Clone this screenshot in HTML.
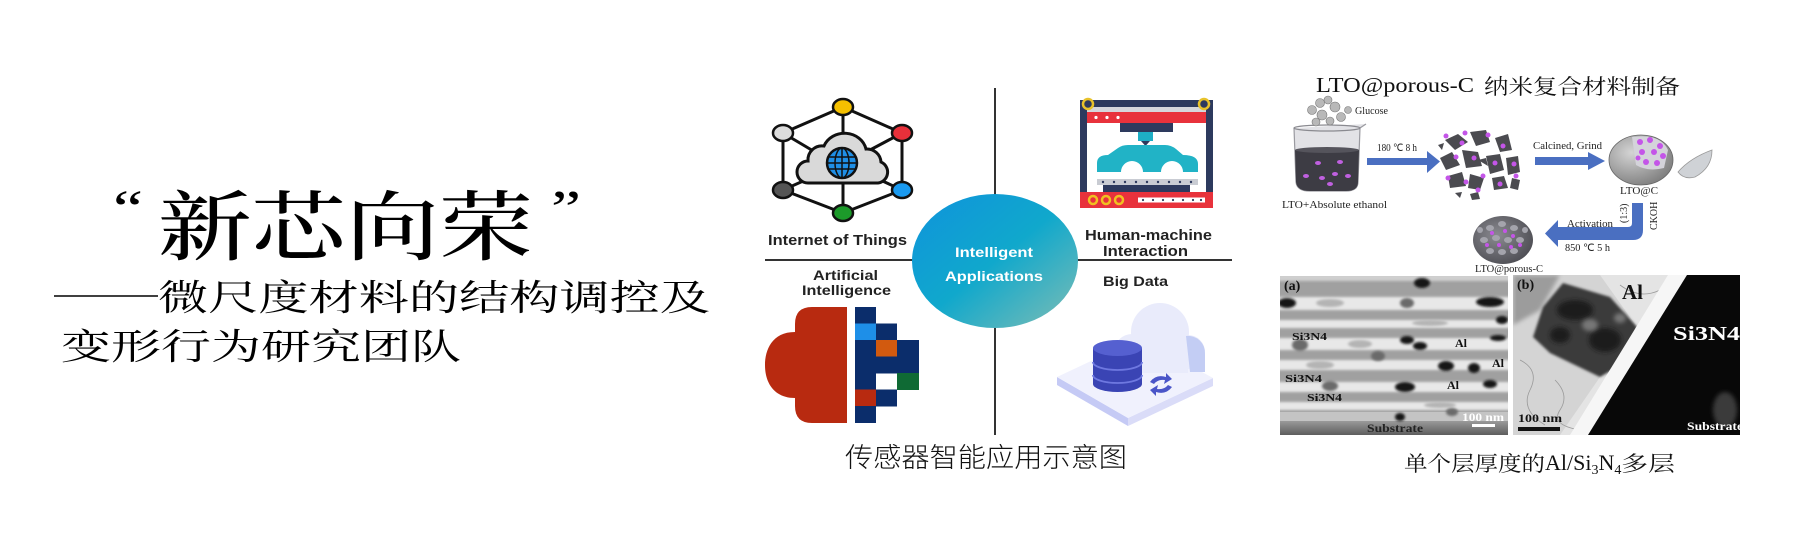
<!DOCTYPE html>
<html><head><meta charset="utf-8">
<style>
html,body{margin:0;padding:0;background:#fff;}
svg{display:block;}
</style></head><body>
<svg width="1794" height="537" viewBox="0 0 1794 537" xmlns="http://www.w3.org/2000/svg">
<defs>
  <linearGradient id="gc" x1="0" y1="0" x2="1" y2="1">
    <stop offset="0" stop-color="#0f93dc"/>
    <stop offset="0.5" stop-color="#10a8cc"/>
    <stop offset="1" stop-color="#7fbdb4"/>
  </linearGradient>
  <radialGradient id="gs" cx="0.35" cy="0.35" r="0.75">
    <stop offset="0" stop-color="#d4d4d4"/>
    <stop offset="1" stop-color="#7a7a7a"/>
  </radialGradient>
  <radialGradient id="gp" cx="0.4" cy="0.4" r="0.7">
    <stop offset="0" stop-color="#8a8a90"/>
    <stop offset="1" stop-color="#4a4a50"/>
  </radialGradient>
  <linearGradient id="gsub" x1="0" y1="0" x2="0" y2="1">
    <stop offset="0" stop-color="#9a9a9a"/>
    <stop offset="1" stop-color="#5e5e5e"/>
  </linearGradient>
  <filter id="b1" x="-20%" y="-20%" width="140%" height="140%"><feGaussianBlur stdDeviation="1.2"/></filter>
  <filter id="b2" x="-20%" y="-20%" width="140%" height="140%"><feGaussianBlur stdDeviation="2"/></filter>
  <clipPath id="ca"><rect x="1280" y="276" width="228" height="159"/></clipPath>
  <clipPath id="cb"><rect x="1513" y="275" width="227" height="160"/></clipPath>
</defs>

<rect width="1794" height="537" fill="#fff"/>

<!-- LEFT TEXT -->
<text transform="translate(113,226) scale(1.3,1)" font-family="Liberation Serif, serif" font-size="52">“</text>
<text x="158" y="254" font-family="Noto Serif CJK SC, serif" font-weight="500" font-size="76" textLength="375" lengthAdjust="spacingAndGlyphs">新芯向荣</text>
<text transform="translate(551,226) scale(1.3,1)" font-family="Liberation Serif, serif" font-size="52">”</text>

<line x1="54" y1="296" x2="158" y2="296" stroke="#000" stroke-width="1.6"/>
<text x="158" y="310" font-family="Noto Serif CJK SC, serif" font-size="36" textLength="552" lengthAdjust="spacingAndGlyphs">微尺度材料的结构调控及</text>
<text x="61" y="359" font-family="Noto Serif CJK SC, serif" font-size="36" textLength="400" lengthAdjust="spacingAndGlyphs">变形行为研究团队</text>

<!-- MIDDLE PANEL -->
<line x1="765" y1="260" x2="1232" y2="260" stroke="#333" stroke-width="2"/>
<line x1="995" y1="88" x2="995" y2="435" stroke="#333" stroke-width="2"/>

<!-- IoT icon -->
<g stroke="#111" stroke-width="3" fill="none" stroke-linejoin="round">
  <polygon points="843,107 902,133 902,190 843,213 783,190 783,133"/>
  <line x1="843" y1="107" x2="843" y2="142"/>
  <line x1="783" y1="133" x2="815" y2="152"/>
  <line x1="902" y1="133" x2="870" y2="150"/>
  <line x1="783" y1="190" x2="810" y2="178"/>
  <line x1="902" y1="190" x2="876" y2="178"/>
  <line x1="843" y1="213" x2="843" y2="183"/>
</g>
<path d="M808,183 H878 A11,11 0 0 0 881,162 A14,14 0 0 0 866,149 A22,20 0 0 0 824,146 A14,14 0 0 0 808,161 A11,11 0 0 0 808,183 Z" fill="#d9d9d9" stroke="#111" stroke-width="3"/>
<circle cx="842" cy="163" r="15" fill="#1f8fe6" stroke="#111" stroke-width="2.5"/>
<g stroke="#111" stroke-width="1.5" fill="none">
  <ellipse cx="842" cy="163" rx="7" ry="15"/>
  <line x1="842" y1="148" x2="842" y2="178"/>
  <line x1="828" y1="157" x2="856" y2="157"/>
  <line x1="827" y1="163" x2="857" y2="163"/>
  <line x1="828" y1="169" x2="856" y2="169"/>
</g>
<g stroke="#111" stroke-width="2.5">
  <ellipse cx="843" cy="107" rx="10" ry="8" fill="#f5c000"/>
  <ellipse cx="783" cy="133" rx="10" ry="8" fill="#dcdcdc"/>
  <ellipse cx="902" cy="133" rx="10" ry="8" fill="#e8303a"/>
  <ellipse cx="783" cy="190" rx="10" ry="8" fill="#555"/>
  <ellipse cx="902" cy="190" rx="10" ry="8" fill="#1a9af0"/>
  <ellipse cx="843" cy="213" rx="10" ry="8" fill="#1c9a2a"/>
</g>
<text x="768" y="245" font-family="Liberation Sans, sans-serif" font-weight="bold" font-size="15" fill="#222" textLength="139" lengthAdjust="spacingAndGlyphs">Internet of Things</text>

<!-- HMI icon -->
<rect x="1080" y="100" width="7" height="108" fill="#2d3a5e"/>
<rect x="1206" y="100" width="7" height="108" fill="#2d3a5e"/>
<rect x="1080" y="100" width="133" height="7" fill="#2d3a5e"/>
<rect x="1087" y="107" width="119" height="5" fill="#d5d7dc"/>
<rect x="1087" y="112" width="119" height="11" fill="#e8323c"/>
<circle cx="1096" cy="117.5" r="1.6" fill="#fff"/><circle cx="1107" cy="117.5" r="1.6" fill="#fff"/><circle cx="1118" cy="117.5" r="1.6" fill="#fff"/>
<circle cx="1088" cy="104" r="5" fill="#2d3a5e" stroke="#e8c22a" stroke-width="2.5"/>
<circle cx="1204" cy="104" r="5" fill="#2d3a5e" stroke="#e8c22a" stroke-width="2.5"/>
<rect x="1120" y="123" width="53" height="9" fill="#2d3a5e"/>
<rect x="1138" y="132" width="15" height="9" fill="#1eaec5"/>
<polygon points="1141,141 1150,141 1145.5,146" fill="#2d3a5e"/>
<path d="M1097,172 V163 Q1097,155 1108,155 L1118,148 Q1122,145 1128,145 H1165 Q1171,145 1176,149 L1183,155 Q1198,155 1198,164 V172 H1183 A11,11 0 0 0 1161,172 H1143 A11,11 0 0 0 1121,172 Z" fill="#21b3c6"/>
<rect x="1097" y="179" width="101" height="6" fill="#c9ccd3"/>
<g fill="#2d3a5e">
  <circle cx="1103" cy="182" r="1.2"/><circle cx="1114" cy="182" r="1.2"/><circle cx="1125" cy="182" r="1.2"/><circle cx="1136" cy="182" r="1.2"/><circle cx="1147" cy="182" r="1.2"/><circle cx="1158" cy="182" r="1.2"/><circle cx="1169" cy="182" r="1.2"/><circle cx="1180" cy="182" r="1.2"/><circle cx="1191" cy="182" r="1.2"/>
</g>
<rect x="1103" y="185" width="87" height="7" fill="#2d3a5e"/>
<rect x="1080" y="192" width="133" height="16" fill="#e8323c"/>
<circle cx="1093" cy="200" r="4" fill="#e8323c" stroke="#f0c020" stroke-width="2.5"/>
<circle cx="1106" cy="200" r="4" fill="#e8323c" stroke="#f0c020" stroke-width="2.5"/>
<circle cx="1119" cy="200" r="4" fill="#e8323c" stroke="#f0c020" stroke-width="2.5"/>
<rect x="1138" y="197.5" width="67" height="5" fill="#fff"/>
<g fill="#2d3a5e">
  <circle cx="1143" cy="200" r="1.1"/><circle cx="1153" cy="200" r="1.1"/><circle cx="1163" cy="200" r="1.1"/><circle cx="1173" cy="200" r="1.1"/><circle cx="1183" cy="200" r="1.1"/><circle cx="1193" cy="200" r="1.1"/><circle cx="1201" cy="200" r="1.1"/>
</g>
<text x="1085" y="240" font-family="Liberation Sans, sans-serif" font-weight="bold" font-size="15" fill="#222" textLength="127" lengthAdjust="spacingAndGlyphs">Human-machine</text>
<text x="1103" y="256" font-family="Liberation Sans, sans-serif" font-weight="bold" font-size="15" fill="#222" textLength="85" lengthAdjust="spacingAndGlyphs">Interaction</text>

<!-- Center ellipse -->
<ellipse cx="995" cy="261" rx="83" ry="67" fill="url(#gc)"/>
<text x="994" y="257" text-anchor="middle" font-family="Liberation Sans, sans-serif" font-weight="bold" font-size="14" fill="#fff" textLength="78" lengthAdjust="spacingAndGlyphs">Intelligent</text>
<text x="994" y="281" text-anchor="middle" font-family="Liberation Sans, sans-serif" font-weight="bold" font-size="14" fill="#fff" textLength="98" lengthAdjust="spacingAndGlyphs">Applications</text>

<!-- AI -->
<text x="813" y="280" font-family="Liberation Sans, sans-serif" font-weight="bold" font-size="14" fill="#222" textLength="65" lengthAdjust="spacingAndGlyphs">Artificial</text>
<text x="802" y="295" font-family="Liberation Sans, sans-serif" font-weight="bold" font-size="14" fill="#222" textLength="89" lengthAdjust="spacingAndGlyphs">Intelligence</text>
<path d="M847,307 L812,307 Q795,307 795,324 L795,332 C772,332 765,350 765,365 C765,384 775,398 795,398 L795,406 Q795,423 812,423 L847,423 Z" fill="#b82a10"/>
<g>
  <rect x="855" y="307" width="21" height="17" fill="#0b2d6b"/>
  <rect x="855" y="323.5" width="21" height="17" fill="#1e8fe8"/>
  <rect x="876" y="323.5" width="21" height="17" fill="#0b2d6b"/>
  <rect x="855" y="340" width="21" height="17" fill="#0b2d6b"/>
  <rect x="876" y="340" width="21" height="17" fill="#d25a0f"/>
  <rect x="897" y="340" width="22" height="17" fill="#0b2d6b"/>
  <rect x="855" y="356.5" width="64" height="17" fill="#0b2d6b"/>
  <rect x="855" y="373" width="21" height="17" fill="#0b2d6b"/>
  <rect x="897" y="373" width="22" height="17" fill="#0f6a34"/>
  <rect x="855" y="389.5" width="21" height="17" fill="#b82a10"/>
  <rect x="876" y="389.5" width="21" height="17" fill="#0b2d6b"/>
  <rect x="855" y="406" width="21" height="17" fill="#0b2d6b"/>
</g>

<!-- Big Data -->
<text x="1103" y="286" font-family="Liberation Sans, sans-serif" font-weight="bold" font-size="14" fill="#222" textLength="65" lengthAdjust="spacingAndGlyphs">Big Data</text>
<polygon points="1057,377 1128,418 1128,426 1057,385" fill="#c5caf5"/>
<polygon points="1128,418 1213,378 1213,386 1128,426" fill="#dadcf8"/>
<polygon points="1057,377 1140,338 1213,378 1128,418" fill="#f0f1fd"/>
<g fill="#e9ebfb">
  <circle cx="1160" cy="332" r="29"/>
  <circle cx="1132" cy="352" r="18"/>
  <circle cx="1188" cy="352" r="17"/>
  <rect x="1132" y="345" width="56" height="28"/>
</g>
<path d="M1186,336 A17,17 0 0 1 1205,354 L1205,372 L1190,372 Z" fill="#c3cdf4"/>
<g>
  <path d="M1093,348 V384 A24.5,8 0 0 0 1142,384 V348 Z" fill="#3a44b4"/>
  <ellipse cx="1117.5" cy="348" rx="24.5" ry="8" fill="#5560d0"/>
  <path d="M1093,362 A24.5,8 0 0 0 1142,362" fill="none" stroke="#6e78e0" stroke-width="1.8"/>
  <path d="M1093,375 A24.5,8 0 0 0 1142,375" fill="none" stroke="#6e78e0" stroke-width="1.8"/>
</g>
<path d="M1150,382 Q1156,374 1166,377 L1166,373 L1172,379 L1164,384 L1165,380 Q1158,379 1154,384 Z" fill="#4a55c8"/>
<path d="M1172,387 Q1166,395 1156,392 L1156,396 L1150,390 L1158,385 L1157,389 Q1164,390 1168,385 Z" fill="#4a55c8"/>

<text x="845" y="467" font-family="Liberation Sans, Noto Sans CJK SC, sans-serif" font-weight="300" font-size="27" fill="#111" textLength="282" lengthAdjust="spacingAndGlyphs">传感器智能应用示意图</text>

<!-- RIGHT PANEL -->
<text x="1316" y="92" font-family="Liberation Serif, serif" font-size="21" fill="#111" textLength="158" lengthAdjust="spacingAndGlyphs">LTO@porous-C</text>
<text x="1484" y="94" font-family="Noto Serif CJK SC, serif" font-size="21" fill="#111" textLength="196" lengthAdjust="spacingAndGlyphs">纳米复合材料制备</text>

<!-- beaker -->
<path d="M1294,128 L1296,182 Q1297,191 1310,191 L1346,191 Q1358,191 1358,182 L1360,128 L1366,124" fill="#e2e2e6" stroke="#9a9aa0" stroke-width="1.2"/>
<path d="M1295,150 L1296,182 Q1297,191 1310,191 L1346,191 Q1358,191 1358,182 L1359,150 Z" fill="#3d3c44"/>
<ellipse cx="1327" cy="150" rx="32" ry="3" fill="#55545c"/>
<ellipse cx="1327" cy="128" rx="33" ry="3" fill="none" stroke="#8a8a90" stroke-width="1.2"/>
<g fill="#c060e0">
  <ellipse cx="1318" cy="163" rx="3" ry="2"/><ellipse cx="1340" cy="162" rx="3" ry="2"/><ellipse cx="1306" cy="176" rx="3" ry="2"/><ellipse cx="1322" cy="178" rx="3" ry="2"/><ellipse cx="1335" cy="174" rx="3" ry="2"/><ellipse cx="1348" cy="176" rx="3" ry="2"/><ellipse cx="1330" cy="184" rx="3" ry="2"/>
</g>
<g fill="#b8b8b8" stroke="#777" stroke-width="0.6">
  <circle cx="1312" cy="110" r="4.5"/><circle cx="1320" cy="103" r="4.5"/><circle cx="1328" cy="100" r="4"/><circle cx="1335" cy="107" r="5"/><circle cx="1322" cy="115" r="5"/><circle cx="1341" cy="117" r="4.5"/><circle cx="1330" cy="121" r="4"/><circle cx="1316" cy="122" r="4"/><circle cx="1348" cy="110" r="3.5"/>
</g>
<text x="1355" y="114" font-family="Liberation Serif, serif" font-size="10" fill="#222" textLength="33" lengthAdjust="spacingAndGlyphs">Glucose</text>
<text x="1282" y="208" font-family="Liberation Serif, serif" font-size="11" fill="#222" textLength="105" lengthAdjust="spacingAndGlyphs">LTO+Absolute ethanol</text>

<!-- arrow 1 -->
<rect x="1367" y="158" width="61" height="7" fill="#4a6fc1"/>
<polygon points="1427,151 1440,161.5 1427,173" fill="#4a6fc1"/>
<text x="1377" y="151" font-family="Liberation Serif, serif" font-size="10" fill="#222" textLength="40" lengthAdjust="spacingAndGlyphs">180 ℃ 8 h</text>

<!-- particles -->
<g fill="#4b4b50">
  <polygon points="1445,140 1458,134 1468,142 1455,150"/>
  <polygon points="1470,132 1486,130 1490,142 1476,146"/>
  <polygon points="1495,138 1508,134 1512,150 1500,152"/>
  <polygon points="1440,158 1452,152 1460,165 1446,170"/>
  <polygon points="1462,150 1478,152 1482,166 1466,168"/>
  <polygon points="1486,156 1500,154 1504,170 1490,174"/>
  <polygon points="1506,158 1518,156 1520,172 1508,175"/>
  <polygon points="1448,176 1462,172 1466,186 1450,188"/>
  <polygon points="1470,174 1484,178 1480,190 1468,188"/>
  <polygon points="1492,178 1504,176 1508,188 1494,190"/>
  <polygon points="1512,178 1520,180 1518,190 1510,188"/>
  <polygon points="1455,193 1462,192 1460,198"/>
  <polygon points="1470,194 1478,192 1480,199 1472,200"/>
  <polygon points="1438,145 1444,143 1442,150"/>
  <polygon points="1478,160 1486,158 1488,166"/>
</g>
<g fill="#c455e8">
  <circle cx="1446" cy="136" r="2.5"/><circle cx="1465" cy="133" r="2.5"/><circle cx="1488" cy="135" r="2.5"/><circle cx="1503" cy="146" r="2.5"/><circle cx="1456" cy="157" r="2.5"/><circle cx="1474" cy="158" r="2.5"/><circle cx="1495" cy="163" r="2.5"/><circle cx="1514" cy="164" r="2.5"/><circle cx="1448" cy="178" r="2.5"/><circle cx="1466" cy="182" r="2.5"/><circle cx="1483" cy="176" r="2.5"/><circle cx="1500" cy="184" r="2.5"/><circle cx="1516" cy="176" r="2.5"/><circle cx="1462" cy="143" r="2.5"/><circle cx="1478" cy="190" r="2.5"/>
</g>

<!-- arrow 2 -->
<rect x="1535" y="157" width="54" height="8" fill="#4a6fc1"/>
<polygon points="1588,152 1605,161 1588,170" fill="#4a6fc1"/>
<text x="1533" y="149" font-family="Liberation Serif, serif" font-size="10" fill="#222" textLength="69" lengthAdjust="spacingAndGlyphs">Calcined, Grind</text>

<!-- LTO@C sphere -->
<ellipse cx="1641" cy="160" rx="32" ry="25" fill="url(#gs)" stroke="#666" stroke-width="0.8"/>
<path d="M1632,137 Q1660,133 1668,150 L1664,168 Q1648,172 1636,165 Z" fill="#d4d3da"/>
<g fill="#c455e8">
  <circle cx="1640" cy="142" r="3"/><circle cx="1650" cy="140" r="3"/><circle cx="1660" cy="146" r="3"/><circle cx="1642" cy="152" r="3"/><circle cx="1654" cy="152" r="3"/><circle cx="1663" cy="156" r="3"/><circle cx="1646" cy="162" r="3"/><circle cx="1657" cy="163" r="3"/><circle cx="1638" cy="158" r="2.5"/>
</g>
<path d="M1678,172 Q1690,158 1712,150 Q1712,168 1695,177 Q1684,180 1678,172 Z" fill="#cfd2d6" stroke="#999" stroke-width="0.8"/>
<text x="1620" y="194" font-family="Liberation Serif, serif" font-size="10" fill="#222" textLength="38" lengthAdjust="spacingAndGlyphs">LTO@C</text>

<!-- curved arrow -->
<path d="M1632,203 H1643 V230 Q1643,240 1633,240 H1558 V247 L1545,233.5 L1558,220 V227 H1628 Q1632,227 1632,223 Z" fill="#4a6fc1"/>
<text x="1567" y="227" font-family="Liberation Serif, serif" font-size="10" fill="#222" textLength="46" lengthAdjust="spacingAndGlyphs">Activation</text>
<text x="1565" y="251" font-family="Liberation Serif, serif" font-size="10" fill="#222" textLength="45" lengthAdjust="spacingAndGlyphs">850 ℃ 5 h</text>
<text transform="translate(1627,223) rotate(-90)" font-family="Liberation Serif, serif" font-size="10" fill="#222">(1:3)</text>
<text transform="translate(1657,230) rotate(-90)" font-family="Liberation Serif, serif" font-size="10" fill="#222">CKOH</text>

<!-- porous sphere -->
<ellipse cx="1503" cy="240" rx="30" ry="24" fill="url(#gp)"/>
<g fill="#a4a4ac">
  <ellipse cx="1490" cy="228" rx="4" ry="3"/><ellipse cx="1502" cy="224" rx="4" ry="3"/><ellipse cx="1514" cy="228" rx="4" ry="3"/><ellipse cx="1484" cy="240" rx="4" ry="3"/><ellipse cx="1496" cy="238" rx="4" ry="3"/><ellipse cx="1508" cy="240" rx="4" ry="3"/><ellipse cx="1520" cy="240" rx="4" ry="3"/><ellipse cx="1490" cy="251" rx="4" ry="3"/><ellipse cx="1502" cy="252" rx="4" ry="3"/><ellipse cx="1514" cy="251" rx="4" ry="3"/><ellipse cx="1525" cy="230" rx="3" ry="3"/><ellipse cx="1480" cy="230" rx="3" ry="3"/>
</g>
<g fill="#c455e8">
  <circle cx="1492" cy="233" r="2"/><circle cx="1505" cy="231" r="2"/><circle cx="1513" cy="236" r="2"/><circle cx="1499" cy="245" r="2"/><circle cx="1511" cy="247" r="2"/><circle cx="1487" cy="245" r="2"/><circle cx="1520" cy="245" r="2"/>
</g>
<text x="1475" y="272" font-family="Liberation Serif, serif" font-size="10" fill="#222" textLength="68" lengthAdjust="spacingAndGlyphs">LTO@porous-C</text>

<!-- TEM (a) -->
<g clip-path="url(#ca)">
  <rect x="1280" y="276" width="228" height="159" fill="#a0a0a0"/>
  <g filter="url(#b1)" fill="#e8e8e8">
    <rect x="1275" y="274" width="240" height="7" fill="#cfcfcf"/>
    <rect x="1275" y="297" width="240" height="13"/>
    <rect x="1275" y="320" width="240" height="8"/>
    <rect x="1275" y="338" width="240" height="12"/>
    <rect x="1275" y="360" width="240" height="10"/>
    <rect x="1275" y="382" width="240" height="10"/>
    <rect x="1275" y="402" width="240" height="8"/>
  </g>
  <g filter="url(#b1)" fill="#b4b4b4">
    <ellipse cx="1330" cy="303" rx="14" ry="4"/><ellipse cx="1430" cy="323" rx="18" ry="3"/><ellipse cx="1360" cy="344" rx="12" ry="4"/><ellipse cx="1320" cy="365" rx="14" ry="4"/><ellipse cx="1440" cy="405" rx="16" ry="3"/>
  </g>
  <rect x="1280" y="412" width="228" height="9" fill="#c4c4c4"/>
  <rect x="1280" y="421" width="228" height="14" fill="url(#gsub)"/>
  <g fill="#151515" filter="url(#b1)">
    <ellipse cx="1287" cy="303" rx="9" ry="5"/>
    <ellipse cx="1422" cy="283" rx="8" ry="5"/>
    <ellipse cx="1490" cy="302" rx="14" ry="5"/>
    <ellipse cx="1502" cy="320" rx="6" ry="4"/>
    <ellipse cx="1407" cy="340" rx="7" ry="4"/>
    <ellipse cx="1420" cy="346" rx="7" ry="4"/>
    <ellipse cx="1498" cy="338" rx="8" ry="3"/>
    <ellipse cx="1446" cy="366" rx="8" ry="5"/>
    <ellipse cx="1474" cy="368" rx="6" ry="5"/>
    <ellipse cx="1405" cy="387" rx="10" ry="5"/>
    <ellipse cx="1490" cy="384" rx="7" ry="4"/>
    <ellipse cx="1400" cy="417" rx="5" ry="4"/>
  </g>
  <g fill="#6a6a6a" filter="url(#b1)">
    <ellipse cx="1407" cy="303" rx="7" ry="5"/><ellipse cx="1300" cy="345" rx="8" ry="6"/><ellipse cx="1378" cy="356" rx="7" ry="5"/><ellipse cx="1330" cy="386" rx="8" ry="5"/><ellipse cx="1452" cy="412" rx="6" ry="4"/>
  </g>
  <text x="1284" y="290" font-family="Liberation Serif, serif" font-weight="bold" font-size="14" fill="#111">(a)</text>
  <text x="1292" y="340" font-family="Liberation Serif, serif" font-weight="bold" font-size="11" fill="#111" textLength="35" lengthAdjust="spacingAndGlyphs">Si3N4</text>
  <text x="1455" y="347" font-family="Liberation Serif, serif" font-weight="bold" font-size="12" fill="#111">Al</text>
  <text x="1492" y="367" font-family="Liberation Serif, serif" font-weight="bold" font-size="12" fill="#111">Al</text>
  <text x="1285" y="382" font-family="Liberation Serif, serif" font-weight="bold" font-size="11" fill="#111" textLength="37" lengthAdjust="spacingAndGlyphs">Si3N4</text>
  <text x="1447" y="389" font-family="Liberation Serif, serif" font-weight="bold" font-size="12" fill="#111">Al</text>
  <text x="1307" y="401" font-family="Liberation Serif, serif" font-weight="bold" font-size="11" fill="#111" textLength="35" lengthAdjust="spacingAndGlyphs">Si3N4</text>
  <text x="1462" y="421" font-family="Liberation Serif, serif" font-weight="bold" font-size="12" fill="#fff" textLength="42" lengthAdjust="spacingAndGlyphs">100 nm</text>
  <rect x="1472" y="424" width="23" height="3" fill="#fff"/>
  <text x="1367" y="432" font-family="Liberation Serif, serif" font-weight="bold" font-size="12" fill="#222" textLength="56" lengthAdjust="spacingAndGlyphs">Substrate</text>
</g>

<!-- TEM (b) -->
<g clip-path="url(#cb)">
  <rect x="1513" y="275" width="227" height="160" fill="#d4d4d4"/>
  <polygon points="1513,275 1560,275 1540,310 1513,325" fill="#9c9c9c" filter="url(#b2)"/>
  <polygon points="1600,275 1687,275 1588,435 1560,435 1600,377 1637,327" fill="#e4e4e4"/>
  <polygon points="1563,283 1610,297 1637,327 1630,360 1600,377 1550,353 1533,337 1543,307" fill="#3a3a3a" filter="url(#b1)"/>
  <g fill="#1a1a1a" filter="url(#b2)">
    <ellipse cx="1575" cy="310" rx="18" ry="10"/><ellipse cx="1605" cy="340" rx="16" ry="12"/><ellipse cx="1560" cy="335" rx="10" ry="8"/>
  </g>
  <g fill="#777" filter="url(#b2)">
    <ellipse cx="1590" cy="325" rx="8" ry="6"/><ellipse cx="1620" cy="318" rx="6" ry="5"/>
  </g>
  <g fill="none" stroke="#9a9a9a" stroke-width="0.8">
    <path d="M1520,360 Q1540,370 1530,390 T1545,425"/>
    <path d="M1555,380 Q1570,395 1560,410 T1580,430"/>
    <path d="M1620,285 Q1640,300 1660,290"/>
  </g>
  <polygon points="1668,275 1687,275 1588,435 1570,435" fill="#f6f6f6"/>
  <polygon points="1687,275 1740,275 1740,435 1588,435" fill="#080808"/>
  <ellipse cx="1725" cy="410" rx="12" ry="18" fill="#3a3a3a" filter="url(#b2)"/>
  <text x="1517" y="289" font-family="Liberation Serif, serif" font-weight="bold" font-size="14" fill="#111">(b)</text>
  <text x="1622" y="299" font-family="Liberation Serif, serif" font-weight="bold" font-size="21" fill="#111">Al</text>
  <text x="1673" y="340" font-family="Liberation Serif, serif" font-weight="bold" font-size="20" fill="#fff" textLength="67" lengthAdjust="spacingAndGlyphs">Si3N4</text>
  <text x="1518" y="422" font-family="Liberation Serif, serif" font-weight="bold" font-size="12" fill="#111" textLength="44" lengthAdjust="spacingAndGlyphs">100 nm</text>
  <rect x="1518" y="427" width="42" height="4" fill="#111"/>
  <text x="1687" y="430" font-family="Liberation Serif, serif" font-weight="bold" font-size="12" fill="#fff" textLength="56" lengthAdjust="spacingAndGlyphs">Substrate</text>
</g>

<!-- right caption -->
<text x="1404" y="471" font-family="Noto Serif CJK SC, serif" font-size="21" fill="#111" textLength="141" lengthAdjust="spacingAndGlyphs">单个层厚度的</text>
<text x="1545" y="470" font-family="Liberation Serif, serif" font-size="22" fill="#111">Al/Si<tspan font-size="14" dy="4">3</tspan><tspan dy="-4">N</tspan><tspan font-size="14" dy="4">4</tspan></text>
<text x="1621" y="471" font-family="Noto Serif CJK SC, serif" font-size="21" fill="#111" textLength="54" lengthAdjust="spacingAndGlyphs">多层</text>
</svg>
</body></html>
